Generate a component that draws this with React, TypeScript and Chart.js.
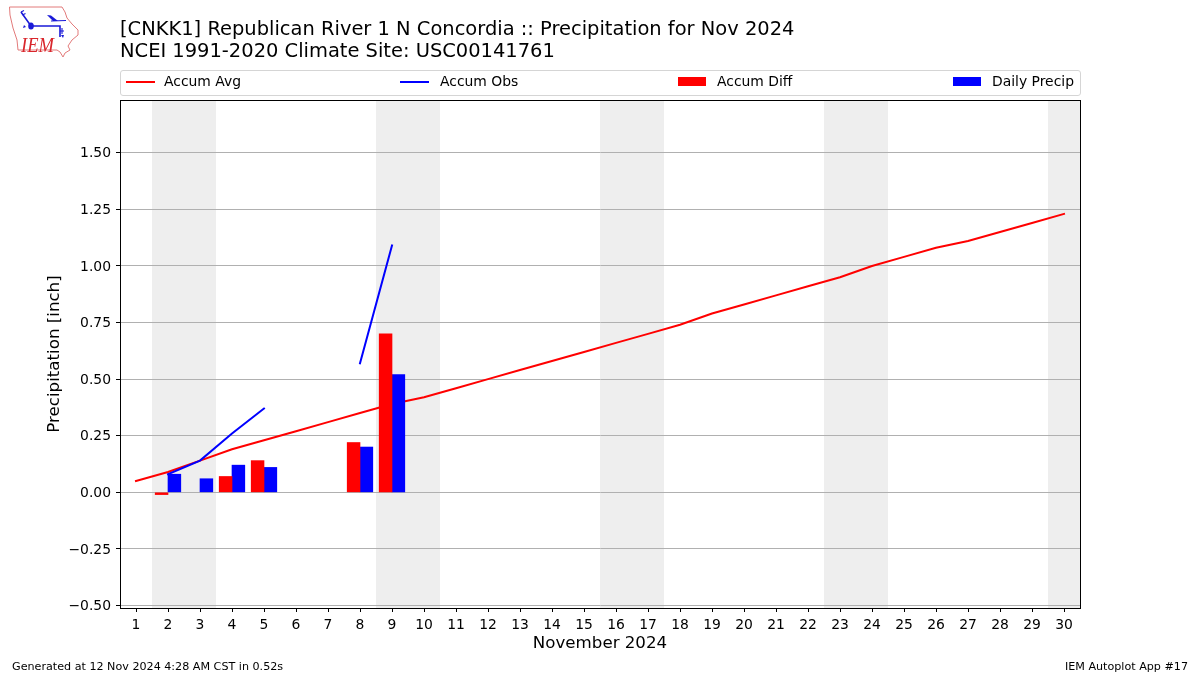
import React, { useEffect, useRef } from "react";
import { Chart, registerables } from "chart.js";

Chart.register(...registerables);

const days = [1,2,3,4,5,6,7,8,9,10,11,12,13,14,15,16,17,18,19,20,21,22,23,24,25,26,27,28,29,30];
const accumAvg = [0.05,0.09,0.14,0.19,0.23,0.27,0.31,0.35,0.39,0.42,0.46,0.50,0.54,0.58,0.62,0.66,0.70,0.74,0.79,0.83,0.87,0.91,0.95,1.00,1.04,1.08,1.11,1.15,1.19,1.23];
const accumObs = [null,0.08,0.14,0.26,0.37,null,null,0.57,1.09,null,null,null,null,null,null,null,null,null,null,null,null,null,null,null,null,null,null,null,null,null];
const accumDiff = [null,-0.01,null,0.07,0.14,null,null,0.22,0.70,null,null,null,null,null,null,null,null,null,null,null,null,null,null,null,null,null,null,null,null,null];
const dailyPrecip = [null,0.08,0.06,0.12,0.11,null,null,0.20,0.52,null,null,null,null,null,null,null,null,null,null,null,null,null,null,null,null,null,null,null,null,null];
const yTicks = [-0.5,-0.25,0,0.25,0.5,0.75,1,1.25,1.5];
const weekendSpans = [[1.5,3.5],[8.5,10.5],[15.5,17.5],[22.5,24.5],[29.5,30.5]];

const titleLines = ["[CNKK1] Republican River 1 N Concordia :: Precipitation for Nov 2024", "NCEI 1991-2020 Climate Site: USC00141761"];
const xAxisTitle = "November 2024";
const yAxisTitle = "Precipitation [inch]";
const footerLeft = "Generated at 12 Nov 2024 4:28 AM CST in 0.52s";
const footerRight = "IEM Autoplot App #17";
const seriesNames = ["Accum Avg", "Accum Obs", "Accum Diff", "Daily Precip"];

const FONT = '"DejaVu Sans", sans-serif';

const toPts = (arr: (number | null)[]) => arr.map((y, i) => ({ x: days[i], y }));

const framePlugin = {
  id: "frame",
  beforeDraw(chart: any) {
    const { ctx, chartArea: a, scales } = chart;
    ctx.save();
    ctx.fillStyle = "#eeeeee";
    for (const [s, e] of weekendSpans) {
      const x0 = scales.x.getPixelForValue(s);
      const x1 = scales.x.getPixelForValue(e);
      ctx.fillRect(x0, a.top, x1 - x0, a.bottom - a.top);
    }
    ctx.restore();
  },
  afterDraw(chart: any) {
    const { ctx, chartArea: a } = chart;
    ctx.save();
    ctx.strokeStyle = "#000";
    ctx.lineWidth = 1;
    ctx.strokeRect(a.left + 0.5, a.top + 0.5, a.right - a.left, a.bottom - a.top);
    ctx.restore();
  },
};

const abs = (l: number, t: number, extra: React.CSSProperties = {}): React.CSSProperties => ({
  position: "absolute", left: l, top: t, fontFamily: FONT, color: "#000", whiteSpace: "nowrap", ...extra,
});

function Logo() {
  return (
    <svg width={90} height={64} viewBox="0 0 90 64" style={{ position: "absolute", left: 0, top: 0 }}>
      <path d="M9.5 7 L62 7 L65 12 L67 18 L72 24 L78 30 L78 35 L72 40 L68 46 L70 50 L65 53 L63 57 L60 52 L57 50 L18 50 L17 40 L13 28 L10 15 Z" fill="#fff" stroke="#e27a7a" strokeWidth="1" />
      <path d="M21 12 L31 26 L60 26 L60 37" fill="none" stroke="#1a1ad8" strokeWidth="1.6" />
      <path d="M21 12 l3 -1.5 M22.5 15 l3 -1.5 M51 21 L66 20.5 M60 31 l4 0 M62 28 l0 6" stroke="#1a1ad8" strokeWidth="1.1" fill="none" />
      <ellipse cx="31" cy="26" rx="2.8" ry="3.6" fill="#1a1ad8" />
      <path d="M47 15 L51 15.5 L58 21 L53 21 Z" fill="#1a1ad8" />
      <path d="M24 25 l2 2 l-3 1 Z M61 35 l3 0 l-1 3 Z" fill="#1a1ad8" />
      <text x="21" y="52" fontFamily='"Liberation Serif", serif' fontStyle="italic" fontSize="22" fill="#d9262c" textLength="33" lengthAdjust="spacingAndGlyphs">IEM</text>
    </svg>
  );
}

export default function App() {
  const ref = useRef<HTMLCanvasElement>(null);
  useEffect(() => {
    const chart = new Chart(ref.current!, {
      type: "bar",
      data: {
        datasets: [
          { type: "line", label: seriesNames[0], data: toPts(accumAvg), borderColor: "#ff0000", borderWidth: 2, borderCapStyle: "square", pointRadius: 0, order: 3, tension: 0 },
          { type: "line", label: seriesNames[1], data: toPts(accumObs), borderColor: "#0000ff", borderWidth: 2, borderCapStyle: "square", pointRadius: 0, order: 2, spanGaps: false, tension: 0 },
          { type: "bar", label: seriesNames[2], data: toPts(accumDiff), backgroundColor: "#ff0000", barThickness: 12.8, order: 1 },
          { type: "bar", label: seriesNames[3], data: toPts(dailyPrecip), backgroundColor: "#0000ff", barThickness: 12.8, order: 1 },
        ] as any,
      },
      options: {
        animation: false,
        responsive: false,
        layout: { padding: { left: 45, right: 120, top: 100, bottom: 21 } },
        plugins: { legend: { display: false }, title: { display: false }, tooltip: { enabled: false } },
        scales: {
          x: {
            type: "linear",
            offset: false,
            min: 0.5,
            max: 30.5,
            afterBuildTicks: (s: any) => { s.ticks = days.map((v) => ({ value: v })); },
            afterFit: (s: any) => { s.height = 46; },
            ticks: { font: { family: FONT, size: 13.9 }, color: "#000", autoSkip: false, maxRotation: 0, padding: 5, callback: (v: any) => String(v) },
            grid: { offset: false, drawOnChartArea: false, tickLength: 4, tickColor: "#000", tickWidth: 1 },
            border: { color: "#000", width: 1 },
            title: { display: true, text: xAxisTitle, font: { family: FONT, size: 16.67 }, color: "#000", padding: { top: 5, bottom: 0 } },
          },
          y: {
            type: "linear",
            min: -0.511,
            max: 1.733,
            afterBuildTicks: (s: any) => { s.ticks = yTicks.map((v) => ({ value: v })); },
            afterFit: (s: any) => { s.width = 75; },
            ticks: { font: { family: FONT, size: 13.9 }, color: "#000", padding: 5, labelOffset: 1, callback: (v: any) => (v < 0 ? "\u2212" : "") + Math.abs(v).toFixed(2) },
            grid: { color: "#b0b0b0", lineWidth: 1, tickLength: 4, tickColor: "#000" },
            border: { color: "#000", width: 1 },
            title: { display: true, text: yAxisTitle, font: { family: FONT, size: 16.67 }, color: "#000", padding: { top: 0, bottom: 4 } },
          },
        },
      } as any,
      plugins: [framePlugin],
    });
    return () => chart.destroy();
  }, []);

  const legendItem = (i: number, left: number, textLeft: number) => (
    <React.Fragment key={i}>
      <div style={i < 2
        ? { position: "absolute", left, top: 81, width: 29, height: 2, background: i === 0 ? "#ff0000" : "#0000ff" }
        : { position: "absolute", left, top: 77, width: 28, height: 9, background: i === 2 ? "#ff0000" : "#0000ff" }} />
      <div style={abs(textLeft, 73, { fontSize: 13.9, lineHeight: "17px" })}>{seriesNames[i]}</div>
    </React.Fragment>
  );

  return (
    <div style={{ position: "fixed", left: 0, top: 0, width: 1200, height: 675, background: "#fff", overflow: "hidden" }}>
      <canvas ref={ref} width={1200} height={675} style={{ position: "absolute", left: 0, top: 0, display: "block" }} />
      <Logo />
      <div style={abs(120, 18, { fontSize: 19.47, lineHeight: "22px" })}>
        <div>{titleLines[0]}</div>
        <div>{titleLines[1]}</div>
      </div>
      <div style={{ position: "absolute", left: 120, top: 70, width: 959, height: 24, border: "1px solid #d5d5d5", borderRadius: 3 }} />
      {legendItem(0, 126, 164)}
      {legendItem(1, 400, 440)}
      {legendItem(2, 678, 717)}
      {legendItem(3, 953, 992)}
      <div style={abs(12, 660, { fontSize: 11.15, lineHeight: "13px" })}>{footerLeft}</div>
      <div style={abs(0, 660, { left: "auto", right: 12, fontSize: 11.15, lineHeight: "13px" })}>{footerRight}</div>
    </div>
  );
}
